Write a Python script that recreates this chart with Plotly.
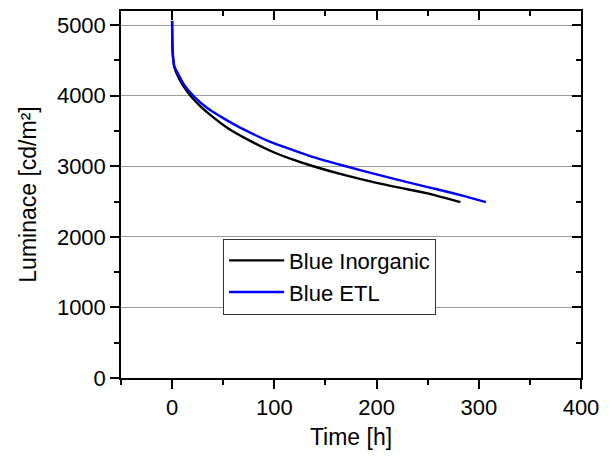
import plotly.graph_objects as go

time_inorganic = [0, 0.3, 1, 2, 5, 10, 18, 27, 37, 55, 75, 96, 117, 138, 170, 200, 230, 250, 266, 282]
lum_inorganic = [5060, 4700, 4520, 4413, 4296, 4160, 4000, 3860, 3732, 3535, 3370, 3220, 3100, 3000,
                 2870, 2765, 2675, 2615, 2555, 2493]

time_etl = [0, 0.3, 1, 2.3, 6.4, 12, 22, 34, 48, 55, 69, 96, 117, 138, 170, 200, 230, 250, 266, 285, 307]
lum_etl = [5060, 4720, 4540, 4413, 4296, 4150, 3980, 3830, 3700, 3640, 3530, 3345, 3235, 3130,
           3000, 2885, 2775, 2705, 2650, 2580, 2493]

x_ticks = [0, 100, 200, 300, 400]
y_ticks = [0, 1000, 2000, 3000, 4000, 5000]
x_range = [-50, 400]
y_range = [0, 5200]

FONT = "Arial, Liberation Sans, sans-serif"
FS_TICK = 22
FS_TITLE = 23
FS_LEG = 22

fig = go.Figure()
fig.add_trace(go.Scatter(x=time_inorganic, y=lum_inorganic, mode="lines", name="Blue Inorganic",
                         line=dict(color="black", width=2.4, shape="spline", smoothing=0.8)))
fig.add_trace(go.Scatter(x=time_etl, y=lum_etl, mode="lines", name="Blue ETL",
                         line=dict(color="#0000ff", width=2.4, shape="spline", smoothing=0.8)))
# invisible trace to carry mirrored (top/right) axes
fig.add_trace(go.Scatter(x=time_etl, y=lum_etl, mode="lines", xaxis="x2", yaxis="y2",
                         showlegend=False, hoverinfo="skip", opacity=0, line=dict(width=0)))

axis_common = dict(showline=True, linecolor="black", linewidth=1.5, zeroline=False,
                   tickcolor="black", tickwidth=1.5)

fig.update_layout(
    width=610, height=457,
    margin=dict(l=121, r=21, t=11, b=77),
    paper_bgcolor="white", plot_bgcolor="white",
    font=dict(family=FONT, size=FS_TICK, color="black"),
    showlegend=True,
    legend=dict(x=0.222, y=0.38, xanchor="left", yanchor="top",
                bordercolor="#333", borderwidth=1, bgcolor="white", itemwidth=55,
                font=dict(family=FONT, size=FS_LEG), tracegroupgap=0),
    xaxis=dict(range=x_range, tickvals=x_ticks, ticks="outside", ticklen=9, showgrid=False,
               title=dict(text="Time [h]", standoff=10, font=dict(size=FS_TITLE)),
               minor=dict(ticks="outside", ticklen=5, dtick=50, tick0=0, tickcolor="black", tickwidth=1.5),
               **axis_common),
    yaxis=dict(range=y_range, tickvals=y_ticks, ticks="outside", ticklen=9,
               showgrid=True, gridcolor="#9a9a9a", gridwidth=1,
               title=dict(text="Luminace [cd/m²]", standoff=14, font=dict(size=FS_TITLE)),
               minor=dict(ticks="outside", ticklen=5, dtick=500, tick0=0, tickcolor="black", tickwidth=1.5),
               **axis_common),
    xaxis2=dict(range=x_range, tickvals=x_ticks, ticks="inside", ticklen=9, overlaying="x",
                side="top", anchor="y", showticklabels=False, showgrid=False,
                minor=dict(ticks="inside", ticklen=5, dtick=50, tick0=0, tickcolor="black", tickwidth=1.5),
                **axis_common),
    yaxis2=dict(range=y_range, tickvals=y_ticks, ticks="inside", ticklen=9, overlaying="y",
                side="right", anchor="x", showticklabels=False, showgrid=False,
                minor=dict(ticks="inside", ticklen=5, dtick=500, tick0=0, tickcolor="black", tickwidth=1.5),
                **axis_common),
)

fig.write_html("out.html")
